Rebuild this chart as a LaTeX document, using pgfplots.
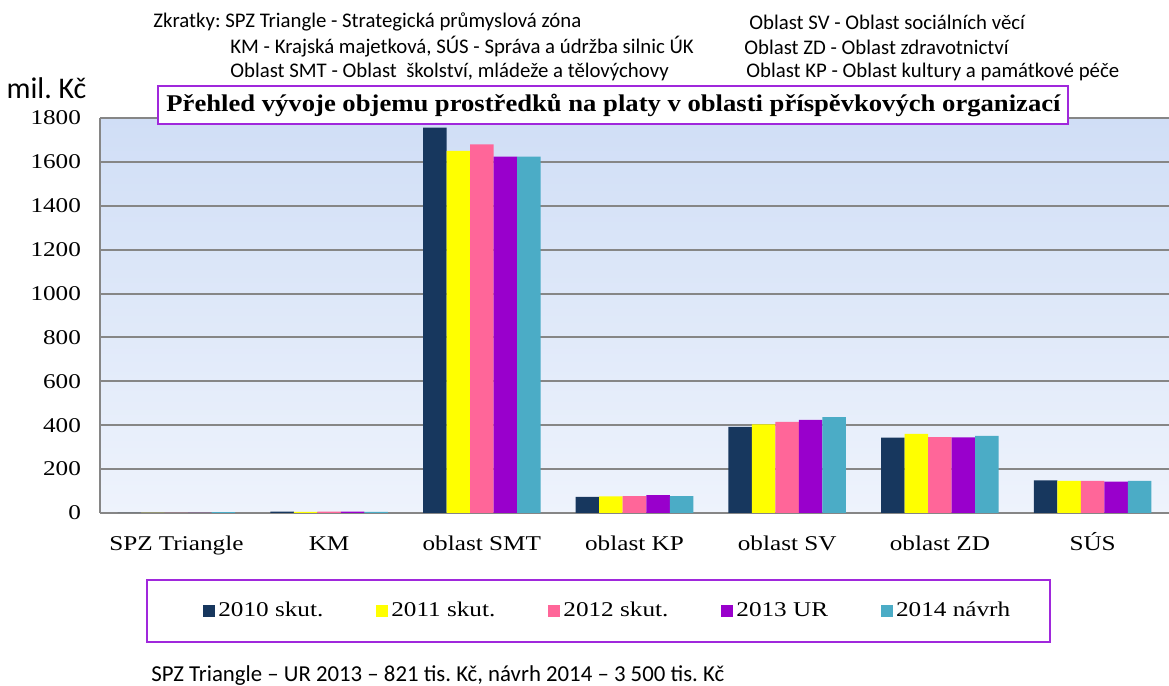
\documentclass[border=0pt]{standalone}
\usepackage{pgfplots}
\pgfplotsset{compat=1.18}
\usepackage{fontspec}
\setmainfont{Liberation Serif}[FakeStretch=1.2]
\newfontfamily\titlefont{Liberation Serif}[FakeStretch=1.11]
\newfontfamily\calib{Carlito}
\definecolor{c2010}{RGB}{23,55,94}
\definecolor{c2011}{RGB}{255,255,0}
\definecolor{c2012}{RGB}{255,102,153}
\definecolor{c2013}{RGB}{153,0,204}
\definecolor{c2014}{RGB}{75,172,198}
\definecolor{gridgray}{RGB}{134,134,134}
\definecolor{boxpurple}{RGB}{160,40,220}
\definecolor{bgtop}{RGB}{208,222,246}
\definecolor{bgbot}{RGB}{238,243,252}
\begin{document}
\frenchspacing
\begin{tikzpicture}
\path[use as bounding box] (0,0) rectangle (584.5pt,343pt);
\begin{axis}[
  at={(50pt,86.5pt)}, anchor=south west,
  scale only axis, width=534.5pt, height=197.5pt,
  ybar=0pt, bar width=11.75pt,
  xmin=-0.5, xmax=6.5, ymin=0, ymax=1800,
  ytick={0,200,...,1800},
  xtick=data,
  xticklabels={SPZ Triangle, KM, oblast SMT, oblast KP, oblast SV, oblast ZD, SÚS},
  tick label style={font=\fontsize{10.5}{12}\selectfont},
  /pgf/number format/assume math mode=true,
  /pgf/number format/set thousands separator={},
  yticklabel style={xshift=-6pt},
  xticklabel style={anchor=base, yshift=-19pt},
  major tick length=0pt,
  ymajorgrids, grid style={draw=gridgray, line width=1pt},
  axis lines=left,
  axis line style={-, draw=gridgray, line width=1pt},
  axis background/.style={top color=bgtop, bottom color=bgbot},
  legend columns=5,
  legend image code/.code={\fill[#1] (0pt,-3pt) rectangle (6pt,3pt);},
  legend style={draw=none, fill=none, at={(0.0963,-0.248)}, anchor=west,
    inner sep=0pt, font=\fontsize{10.5}{12}\selectfont,
    nodes={inner sep=1.5pt},
    /tikz/every even column/.append style={column sep=25pt}},
]
\addplot[fill=c2010, draw=none] coordinates {(0,0) (1,6) (2,1756) (3,74) (4,392) (5,343) (6,149)};
\addplot[fill=c2011, draw=none] coordinates {(0,0) (1,5) (2,1650) (3,76) (4,404) (5,360) (6,146)};
\addplot[fill=c2012, draw=none] coordinates {(0,0) (1,6) (2,1680) (3,77) (4,415) (5,346) (6,146)};
\addplot[fill=c2013, draw=none] coordinates {(0,0.821) (1,6) (2,1624) (3,81) (4,424) (5,345) (6,143)};
\addplot[fill=c2014, draw=none] coordinates {(0,3.5) (1,5) (2,1624) (3,77) (4,437) (5,351) (6,146)};
\legend{2010 skut., 2011 skut., 2012 skut., 2013 UR, 2014 návrh}
\end{axis}
% title box
\draw[boxpurple, line width=1pt, fill=white] (79pt,281pt) rectangle (534pt,300pt);
\node[font=\titlefont\fontsize{12}{14}\selectfont\bfseries] at (306.75pt,290.5pt) {Přehled vývoje objemu prostředků na platy v oblasti příspěvkových organizací};
% legend box
\draw[boxpurple, line width=1pt] (73.5pt,22pt) rectangle (525pt,53pt);
% top notes
\begin{scope}[every node/.style={anchor=west, inner sep=0pt, font=\calib\fontsize{10.4}{12}\selectfont}]
\node at (76.5pt,332pt) {Zkratky: SPZ Triangle - Strategická průmyslová zóna};
\node at (115pt,319.5pt) {KM - Krajská majetková, SÚS - Správa a údržba silnic ÚK};
\node at (115pt,307pt) {Oblast SMT - Oblast\ \ školství, mládeže a tělovýchovy};
\node at (374.5pt,332pt) {Oblast SV - Oblast sociálních věcí};
\node at (372pt,319.5pt) {Oblast ZD - Oblast zdravotnictví};
\node at (373pt,307pt) {Oblast KP - Oblast kultury a památkové péče};
\end{scope}
\node[anchor=west, inner sep=0pt, font=\calib\fontsize{11.4}{13}\selectfont] at (75.5pt,5pt) {SPZ Triangle – UR 2013 – 821 tis. Kč, návrh 2014 – 3 500 tis. Kč};
\node[font=\calib\fontsize{15}{17}\selectfont] at (23.25pt,299pt) {mil. Kč};
\end{tikzpicture}
\end{document}
